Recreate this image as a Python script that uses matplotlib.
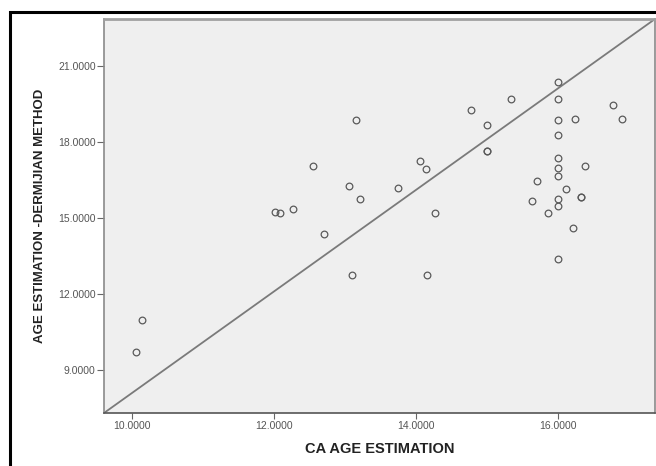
# ============================================================
# Scatter plot: CA age estimation vs Dermijian method
# ============================================================

import matplotlib
matplotlib.use("Agg")
import matplotlib.pyplot as plt
from matplotlib.patches import Rectangle

# ------------------------------------------------------------
# DATA
# ------------------------------------------------------------
ca_age = [
    10.06, 10.15, 12.02, 12.08, 12.27, 12.55, 12.71, 13.06, 13.10, 13.16,
    13.21, 13.74, 14.05, 14.14, 14.16, 14.27, 14.77, 14.99, 14.99, 14.99,
    15.33, 15.63, 15.70, 15.85, 15.99, 15.99, 15.99, 16.00, 16.00, 16.00,
    16.00, 16.00, 16.00, 16.00, 16.11, 16.21, 16.24, 16.32, 16.32, 16.38,
    16.77, 16.90,
]
dermijian_age = [
    9.73, 10.96, 15.25, 15.19, 15.35, 17.05, 14.35, 16.26, 12.76, 18.86,
    15.74, 16.16, 17.24, 16.94, 12.76, 15.21, 19.26, 18.65, 17.65, 17.65,
    19.68, 15.65, 16.45, 15.21, 13.38, 18.86, 16.97, 20.36, 19.68, 18.26,
    17.37, 16.66, 15.74, 15.45, 16.15, 14.60, 18.89, 15.84, 15.84, 17.05,
    19.45, 18.89,
]

# reference line (corner to corner of the plot area)
line_x = [9.61, 17.36]
line_y = [7.31, 22.84]

x_ticks = [10, 12, 14, 16]
y_ticks = [9, 12, 15, 18, 21]

# ------------------------------------------------------------
# PLOT
# ------------------------------------------------------------
plt.rcParams["font.family"] = ["Liberation Sans", "DejaVu Sans"]

fig = plt.figure(figsize=(6.56, 4.66), dpi=100)
ax = fig.add_axes([104 / 656, 1 - 413 / 466, 551 / 656, 394 / 466])
ax.set_facecolor("#efefef")

ax.plot(line_x, line_y, color="#7a7a7a", linewidth=1.3, zorder=2)
ax.plot(ca_age, dermijian_age, linestyle="none", marker="o",
        markersize=4.8, markerfacecolor="none", markeredgecolor="#5a5a5a",
        markeredgewidth=0.9, zorder=3)

ax.set_xlim(9.61, 17.36)
ax.set_ylim(7.31, 22.84)
ax.set_xticks(x_ticks)
ax.set_yticks(y_ticks)
ax.set_xticklabels([f"{v:.4f}" for v in x_ticks])
ax.set_yticklabels([f"{v:.4f}" for v in y_ticks])
ax.tick_params(axis="both", labelsize=7.5, labelcolor="#555555",
               color="#666666", direction="out")
ax.tick_params(axis="x", length=4, pad=2)
ax.tick_params(axis="y", length=5, pad=1)

for side in ["left", "right", "top"]:
    ax.spines[side].set_color("#8a8a8a")
    ax.spines[side].set_linewidth(1.2)
ax.spines["bottom"].set_color("#555555")
ax.spines["bottom"].set_linewidth(1.2)
ax.spines["top"].set_linewidth(2.0)
ax.spines["top"].set_color("#a0a0a0")

ax.set_xlabel("CA AGE ESTIMATION", fontsize=10.5, fontweight="bold",
              color="#222222", labelpad=8)
ax.set_ylabel("AGE ESTIMATION -DERMIJIAN METHOD", fontsize=9.5,
              fontweight="bold", color="#222222", labelpad=9)

# outer black frame (runs off the right and bottom edges)
fig.patches.append(Rectangle((10 / 656, -0.05), 1.1, 1 - 12 / 466 + 0.05,
                             transform=fig.transFigure, fill=False,
                             edgecolor="black", linewidth=2.2))

fig.savefig("out.png", dpi=100)
